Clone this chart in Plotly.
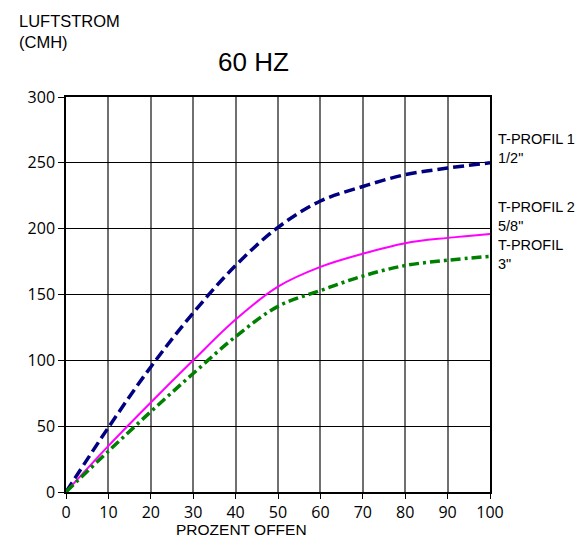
import plotly.graph_objects as go

x = [0, 10, 20, 30, 40, 50, 60, 70, 80, 90, 100]
profil1 = [0, 49, 95, 136, 172, 201, 221, 232, 241, 246, 250]
profil2 = [0, 35, 68, 100, 131, 156, 171, 181, 189, 193, 196]
profil3 = [0, 31, 61, 90, 118, 141, 153, 164, 172, 176, 179]
labels = ['T-PROFIL 1<br>1/2"', 'T-PROFIL 2<br>5/8"', 'T-PROFIL<br>3"']
label_y = [261, 209, 180.5]

fig = go.Figure()
fig.add_trace(go.Scatter(x=x, y=profil1, mode="lines", line=dict(color="#000080", width=3.5, dash="11px,5px", shape="spline")))
fig.add_trace(go.Scatter(x=x, y=profil2, mode="lines", line=dict(color="#ff00ff", width=2, shape="spline")))
fig.add_trace(go.Scatter(x=x, y=profil3, mode="lines", line=dict(color="#008000", width=3.5, dash="10px,4px,3px,4px", shape="spline")))

for t, yy in zip(labels, label_y):
    fig.add_annotation(x=1, xref="paper", y=yy, yref="y", text=t, showarrow=False,
                       xanchor="left", xshift=6, align="left",
                       font=dict(family="Liberation Sans", size=14.5, color="black"))

fig.add_annotation(x=-0.115, xref="paper", y=1.22, yref="paper", yanchor="top", xanchor="left",
                   text="LUFTSTROM<br>(CMH)", showarrow=False, align="left",
                   font=dict(family="Liberation Sans", size=16.5, color="black"))
fig.add_annotation(x=0.443, xref="paper", y=1.089, yref="paper", yanchor="middle", xanchor="center",
                   text="60 HZ", showarrow=False,
                   font=dict(family="Liberation Sans", size=26, color="black"))
fig.add_annotation(x=0.415, xref="paper", y=-0.094, yref="paper", yanchor="middle", xanchor="center",
                   text="PROZENT OFFEN", showarrow=False,
                   font=dict(family="Liberation Sans", size=15.5, color="black"))

fig.update_layout(
    width=584, height=537,
    margin=dict(l=58, r=102, t=89, b=53),
    paper_bgcolor="white", plot_bgcolor="white",
    showlegend=False,
    font=dict(family="Open Sans", size=16, color="black"),
)
fig.update_xaxes(range=[0, 100], tickvals=x, showgrid=True, gridcolor="#707070", gridwidth=1.5,
                 showline=True, linecolor="black", linewidth=1.5, mirror=True,
                 ticks="outside", ticklen=5, tickcolor="black", zeroline=False,
                 tickfont=dict(family="Open Sans", size=16))
fig.update_yaxes(range=[0, 300], tickvals=[0, 50, 100, 150, 200, 250, 300], showgrid=True,
                 gridcolor="black", gridwidth=1,
                 showline=True, linecolor="black", linewidth=1.5, mirror=True,
                 ticks="outside", ticklen=6, tickcolor="black", zeroline=False,
                 tickfont=dict(family="Open Sans", size=16))

fig.write_html("out.html")
